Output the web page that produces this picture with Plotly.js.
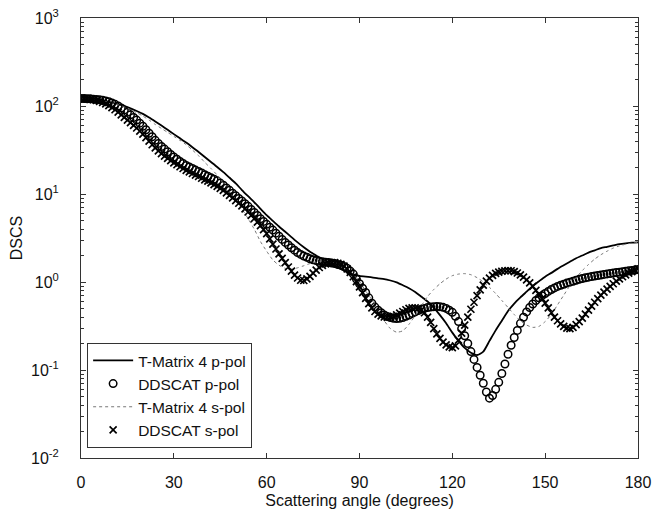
<!DOCTYPE html>
<html>
<head>
<meta charset="utf-8">
<script src="https://cdn.plot.ly/plotly-3.0.1.min.js"></script>
<style>html,body{margin:0;padding:0;background:#fff;}#chart{width:654px;height:517px;}</style>
</head>
<body>
<div id="chart"></div>
<script>
// Scattering angles (degrees)
const angleLine = [0,2,4,6,8,10,12,14,16,18,20,22,24,26,28,30,32,34,36,38,40,42,44,46,48,50,52,54,56,58,60,62,64,66,68,70,72,74,76,78,80,82,84,86,88,90,92,94,96,98,100,102,104,106,108,110,112,114,116,118,120,122,124,126,128,130,132,134,136,138,140,142,144,146,148,150,152,154,156,158,160,162,164,166,168,170,172,174,176,178,180];
const angleMarker = [0,1,2,3,4,5,6,7,8,9,10,11,12,13,14,15,16,17,18,19,20,21,22,23,24,25,26,27,28,29,30,31,32,33,34,35,36,37,38,39,40,41,42,43,44,45,46,47,48,49,50,51,52,53,54,55,56,57,58,59,60,61,62,63,64,65,66,67,68,69,70,71,72,73,74,75,76,77,78,79,80,81,82,83,84,85,86,87,88,89,90,91,92,93,94,95,96,97,98,99,100,101,102,103,104,105,106,107,108,109,110,111,112,113,114,115,116,117,118,119,120,121,122,123,124,125,126,127,128,129,130,131,132,133,134,135,136,137,138,139,140,141,142,143,144,145,146,147,148,149,150,151,152,153,154,155,156,157,158,159,160,161,162,163,164,165,166,167,168,169,170,171,172,173,174,175,176,177,178,179,180];

// T-Matrix 4 p-pol (solid line)
const tmatP = [120.2,119.7,118.6,116.4,113.5,109.6,104.7,99.5,93.8,87.7,81.3,74.1,66.8,60,53.7,47.9,42.9,38.4,34,30,26.3,23.1,20.3,17.7,15.3,13.2,11.1,9.44,8.04,6.79,5.75,4.95,4.27,3.72,3.24,2.82,2.48,2.21,2.0,1.81,1.66,1.52,1.41,1.30,1.22,1.175,1.15,1.13,1.10,1.08,1.04,0.99,0.92,0.85,0.77,0.68,0.60,0.51,0.42,0.34,0.266,0.214,0.178,0.157,0.148,0.162,0.214,0.282,0.363,0.468,0.569,0.668,0.776,0.902,1.02,1.15,1.27,1.41,1.55,1.70,1.86,2.0,2.16,2.29,2.43,2.51,2.60,2.69,2.75,2.80,2.82];

// T-Matrix 4 s-pol (dotted line)
const tmatS = [120,119.7,118.6,116.2,113,108.6,103.5,97.7,91.2,84.1,76.7,69.2,61.7,55.6,50.1,45.2,40.7,36.3,31.6,27.2,22.9,19.5,16.4,13.2,10.7,8.5,6.76,5.25,3.98,2.88,2.24,1.78,1.55,1.43,1.40,1.45,1.53,1.62,1.69,1.73,1.74,1.70,1.58,1.41,1.22,1.02,0.79,0.63,0.48,0.363,0.295,0.269,0.279,0.331,0.417,0.537,0.684,0.822,0.955,1.08,1.18,1.23,1.245,1.21,1.12,1.0,0.87,0.74,0.617,0.513,0.427,0.363,0.324,0.305,0.313,0.355,0.427,0.55,0.708,0.91,1.12,1.35,1.58,1.82,2.04,2.24,2.43,2.57,2.69,2.77,2.82];

// DDSCAT p-pol (open circles)
const ddscatP = [121.6,121.6,121,120.5,119.7,118.6,117.5,116.1,114.3,111.7,108.4,104.5,100,95.1,90.2,84.7,79.4,74.1,69.2,63.8,58.9,53.7,49,44.7,40.7,37.6,34.7,32.4,30.2,28.2,26.3,24.8,23.4,22.2,21.1,20.3,19.5,18.7,18,17.3,16.6,15.9,15.3,14.7,14.1,13.3,12.6,11.7,11,10.2,9.55,8.91,8.32,7.76,7.24,6.68,6.17,5.69,5.25,4.88,4.52,4.19,3.89,3.59,3.31,3.05,2.82,2.63,2.45,2.30,2.16,2.06,1.97,1.91,1.84,1.79,1.75,1.72,1.70,1.68,1.67,1.64,1.62,1.58,1.55,1.50,1.43,1.33,1.23,1.08,0.955,0.851,0.759,0.661,0.575,0.519,0.479,0.447,0.422,0.406,0.394,0.387,0.385,0.387,0.394,0.407,0.422,0.44,0.457,0.474,0.49,0.501,0.513,0.52,0.525,0.527,0.525,0.515,0.501,0.479,0.452,0.407,0.355,0.295,0.245,0.2,0.162,0.132,0.107,0.0871,0.0708,0.0562,0.0479,0.0513,0.0603,0.0724,0.0912,0.117,0.151,0.191,0.234,0.282,0.339,0.398,0.457,0.513,0.562,0.617,0.661,0.70,0.741,0.782,0.822,0.857,0.891,0.918,0.944,0.971,0.995,1.021,1.047,1.072,1.096,1.117,1.135,1.153,1.169,1.186,1.202,1.219,1.236,1.250,1.265,1.279,1.294,1.309,1.324,1.340,1.355,1.371,1.387];

// DDSCAT s-pol (crosses)
const ddscatS = [121.6,121.3,120.5,119.4,117.8,115.6,113,109.6,105.7,101.2,95.9,90.6,85.1,79.4,74.1,69.2,64.6,60.3,56.2,51.9,47.9,43.7,39.8,36.3,33.5,30.9,28.8,26.9,25.4,24,22.6,21.5,20.4,19.5,18.6,17.8,17.1,16.4,15.8,15.1,14.5,14,13.4,12.8,12.2,11.6,11,10.3,9.66,9.02,8.41,7.85,7.33,6.76,6.24,5.73,5.25,4.79,4.37,3.94,3.55,3.09,2.69,2.37,2.09,1.86,1.66,1.48,1.33,1.20,1.11,1.047,1.04,1.084,1.161,1.259,1.365,1.462,1.549,1.603,1.641,1.66,1.66,1.633,1.585,1.514,1.413,1.288,1.148,1.012,0.881,0.759,0.653,0.569,0.507,0.462,0.432,0.412,0.40,0.396,0.398,0.407,0.422,0.442,0.462,0.484,0.501,0.509,0.509,0.501,0.481,0.447,0.398,0.347,0.295,0.257,0.229,0.207,0.193,0.183,0.18,0.188,0.219,0.263,0.324,0.398,0.49,0.589,0.70,0.813,0.923,1.023,1.109,1.189,1.250,1.294,1.324,1.343,1.349,1.343,1.312,1.265,1.202,1.135,1.059,0.977,0.891,0.804,0.724,0.646,0.575,0.507,0.447,0.398,0.363,0.335,0.313,0.299,0.295,0.305,0.327,0.355,0.389,0.432,0.479,0.531,0.589,0.646,0.708,0.767,0.832,0.891,0.955,1.023,1.084,1.148,1.202,1.259,1.312,1.365,1.413];

const xTicks = [0,30,60,90,120,150,180];
const yTickExps = [-2,-1,0,1,2,3];

const FONT = 'Liberation Sans, Arial, sans-serif';
const AXC = '#333';

const yTickVals = yTickExps.map(e => Math.pow(10, e));
const yTickText = yTickExps.map(e => '10<sup>' + e + '</sup>');
const yMinor = [];
for (let i = 0; i < yTickExps.length - 1; i++) {
  for (let d = 2; d <= 9; d++) yMinor.push(d * Math.pow(10, yTickExps[i]));
}

const traces = [
  {x: angleLine, y: tmatP, name: 'T-Matrix 4 p-pol', type: 'scatter', mode: 'lines',
   line: {color: '#000', width: 1.8, shape: 'spline', smoothing: 0.6}},
  {x: angleMarker, y: ddscatP, name: 'DDSCAT p-pol', type: 'scatter', mode: 'markers',
   marker: {symbol: 'circle-open', size: 7.5, color: '#000', line: {width: 1.5, color: '#000'}}},
  {x: angleLine, y: tmatS, name: 'T-Matrix 4 s-pol', type: 'scatter', mode: 'lines',
   line: {color: '#777', width: 1, dash: 'dot', shape: 'spline', smoothing: 0.6}},
  {x: angleMarker, y: ddscatS, name: 'DDSCAT s-pol', type: 'scatter', mode: 'markers',
   marker: {symbol: 'x-thin', size: 7, color: '#000', line: {width: 1.7, color: '#000'}}}
];

const layout = {
  width: 654, height: 517,
  margin: {l: 81, r: 16, t: 18, b: 59, pad: 0},
  paper_bgcolor: '#fff', plot_bgcolor: '#fff',
  font: {family: FONT, size: 16, color: '#111'},
  showlegend: true,
  legend: {x: 0.011, y: 0.023, xanchor: 'left', yanchor: 'bottom',
    bgcolor: '#fff', bordercolor: AXC, borderwidth: 1, itemwidth: 40,
    font: {family: FONT, size: 15.5, color: '#111'}, tracegroupgap: 0},
  xaxis: {
    range: [0, 180], tickmode: 'array', tickvals: xTicks, ticktext: xTicks.map(String),
    ticks: 'inside', ticklen: 5, tickwidth: 1, tickcolor: AXC,
    showline: true, linecolor: AXC, linewidth: 1, mirror: 'ticks',
    showgrid: false, zeroline: false, ticklabelstandoff: 10,
    tickfont: {family: FONT, size: 16, color: '#111'},
    title: {text: 'Scattering angle (degrees)', font: {family: FONT, size: 16, color: '#111'}, standoff: 4}
  },
  yaxis: {
    type: 'log', range: [-2, 3], tickmode: 'array', tickvals: yTickVals, ticktext: yTickText,
    ticks: 'inside', ticklen: 5, tickwidth: 1, tickcolor: AXC,
    minor: {tickmode: 'array', tickvals: yMinor, ticks: 'inside', ticklen: 3, tickcolor: AXC, showgrid: false},
    showline: true, linecolor: AXC, linewidth: 1, mirror: 'ticks',
    showgrid: false, zeroline: false, ticklabelstandoff: 18,
    tickfont: {family: FONT, size: 16, color: '#111'},
    title: {text: 'DSCS', font: {family: FONT, size: 16, color: '#111'}, standoff: 4}
  }
};

Plotly.newPlot('chart', traces, layout, {staticPlot: true, displayModeBar: false});
</script>
</body>
</html>
